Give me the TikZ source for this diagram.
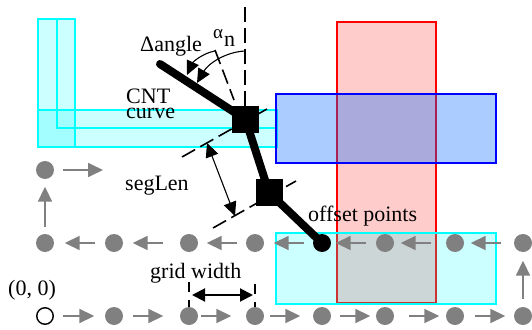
\documentclass[tikz,border=0pt]{standalone}
\usepackage{fontspec}
\setmainfont{Liberation Serif}
\usetikzlibrary{arrows.meta}
\definecolor{gray50}{HTML}{808080}
\definecolor{cyanline}{HTML}{00FFFF}
\definecolor{bluefill}{HTML}{0066FF}
\tikzset{
  dot/.style={circle,fill=gray50,draw=none,minimum size=18pt,inner sep=0pt},
  opendot/.style={circle,fill=white,draw=black,line width=1.4pt,minimum size=16.5pt,inner sep=0pt},
  blackdot/.style={circle,fill=black,draw=none,minimum size=18pt,inner sep=0pt},
  sq/.style={rectangle,fill=black,draw=none,minimum size=27pt,inner sep=0pt},
  ga/.style={draw=gray50,line width=1.8pt,-{Triangle[length=15pt,width=14pt,fill=gray50]}},
  thick line/.style={line width=8pt,line cap=round,line join=round},
  dsh/.style={line width=1.6pt,dash pattern=on 15pt off 6pt},
  blk/.style={line width=1.1pt,-{Triangle[length=14pt,width=13pt]}},
  lbl/.style={font=\fontsize{22}{22}\selectfont,inner sep=0pt,anchor=base west},
  cyanbox/.style={fill=cyanline,fill opacity=.2,draw=cyanline,draw opacity=1,line width=1.5pt},
}
\begin{document}
\begin{tikzpicture}[x=1pt,y=-1pt]
\useasboundingbox (0,0) rectangle (532,329);
% curve bands
\path[cyanbox] (38,19) rectangle (75,147);
\path[cyanbox] (38,110) rectangle (277,147);
\draw[cyanline,line width=1.5pt] (57,19) -- (57,128) -- (277,128);
\path[fill=red,fill opacity=.2,draw=red,line width=1.6pt] (337,22) rectangle (436,303);
\path[cyanbox] (276,233) rectangle (496,304);
\path[fill=bluefill,fill opacity=.333,draw=blue,draw opacity=1,line width=1.6pt] (276,94) rectangle (496,163);
% grid points
\foreach \n/\x in {2/114,3/189,4/255,5/322,6/385,7/455,8/523}
  \node[dot] (b\n) at (\x,316) {};
\node[opendot] (b1) at (45,316) {};
\foreach \n/\x in {1/45,2/114,3/189,4/255,6/385,7/455,8/523}
  \node[dot] (m\n) at (\x,243) {};
\node[blackdot] (m5) at (322,243) {};
\node[dot] (t1) at (45,170) {};
\coordinate (tend) at (103,170);
% grid path
\draw[ga,shorten <=9.5pt,shorten >=10.5pt] (b1) -- (b2);
\draw[ga,shorten <=9.5pt,shorten >=16.5pt] (b2) -- (b3);
\draw[ga,shorten <=2.5pt,shorten >=14.5pt] (b3) -- (b4);
\draw[ga,shorten <=5.5pt,shorten >=12.5pt] (b4) -- (b5);
\draw[ga,shorten <=8.5pt,shorten >=5.5pt] (b5) -- (b6);
\draw[ga,shorten <=14.5pt,shorten >=6.5pt] (b6) -- (b7);
\draw[ga,shorten <=10.5pt,shorten >=8.5pt] (b7) -- (b8);
\draw[ga,shorten <=7.5pt,shorten >=8.5pt] (b8) -- (m8);
\draw[ga,shorten <=12.5pt,shorten >=6.5pt] (m8) -- (m7);
\draw[ga,shorten <=14.5pt,shorten >=6.5pt] (m7) -- (m6);
\draw[ga,shorten <=9.5pt,shorten >=4.5pt] (m6) -- (m5);
\draw[ga,shorten <=8.5pt,shorten >=9.5pt] (m5) -- (m4);
\draw[ga,shorten <=8.5pt,shorten >=8.5pt] (m4) -- (m3);
\draw[ga,shorten <=16.5pt,shorten >=9.5pt] (m3) -- (m2);
\draw[ga,shorten <=9.5pt,shorten >=10.5pt] (m2) -- (m1);
\draw[ga,shorten <=6.5pt,shorten >=7.5pt] (m1) -- (t1);
\draw[ga,shorten <=9pt] (t1) -- (tend);
% dashed guides
\coordinate (vtop) at (245,7);
\coordinate (vbot) at (245,106);
\coordinate (atop) at (215,50);
\coordinate (abot) at (234,100);
\coordinate (p1a) at (182,157);
\coordinate (p1b) at (267,109);
\coordinate (p2a) at (213,228);
\coordinate (p2b) at (296,181);
\draw[dsh] (vtop) -- (vbot);
\draw[dsh] (atop) -- (abot);
\draw[dsh] (p1a) -- (p1b);
\draw[dsh] (p2a) -- (p2b);
% CNT segments
\node[sq] (s1) at (245.5,119.5) {};
\node[sq] (s2) at (269,192.5) {};
\coordinate (cstart) at (160,64);
\draw[thick line] (cstart) -- (s1.center) -- (s2.center) -- (m5.center);
% angle arcs
\coordinate (an1) at (245,51);
\coordinate (an2) at (197,83);
\coordinate (dl1) at (215,51);
\coordinate (dl2) at (187,75);
\draw[blk] (an1) .. controls (225,52) and (208,64) .. (an2);
\draw[blk] (dl1) .. controls (203,53) and (193,62) .. (dl2);
% segLen dimension
\coordinate (sl1) at (207,143);
\coordinate (sl2) at (235,216);
\draw[line width=1.1pt,{Triangle[length=14pt,width=13pt]}-{Triangle[length=14pt,width=13pt]}] (sl1) -- (sl2);
% grid width dimension
\coordinate (g1a) at (189,282);
\coordinate (g1b) at (189,307);
\coordinate (g2a) at (255,284);
\coordinate (g2b) at (255,307);
\draw[line width=1.4pt,dash pattern=on 10pt off 8pt] (g1a) -- (g1b);
\draw[line width=1.4pt,dash pattern=on 10pt off 8pt] (g2a) -- (g2b);
\coordinate (ga1) at (192,295);
\coordinate (ga2) at (253,295);
\draw[line width=2pt,{Triangle[length=13pt,width=13pt]}-{Triangle[length=13pt,width=13pt]}] (ga1) -- (ga2);
% labels
\node[lbl] (tdelta) at (140,52) {Δangle};
\node[lbl,font=\fontsize{19}{19}\selectfont] (talpha) at (213,38) {α};
\node[lbl] (tn) at (224,47) {n};
\node[lbl,anchor=west,align=left,font=\fontsize{22}{14.7}\selectfont] (tcnt) at (126,104) {CNT\\curve};
\node[lbl] (tseg) at (125,190) {segLen};
\node[lbl] (toff) at (308,221) {offset points};
\node[lbl] (tgrid) at (150,278) {grid width};
\node[lbl] (torigin) at (8,295) {(0, 0)};
\end{tikzpicture}
\end{document}
